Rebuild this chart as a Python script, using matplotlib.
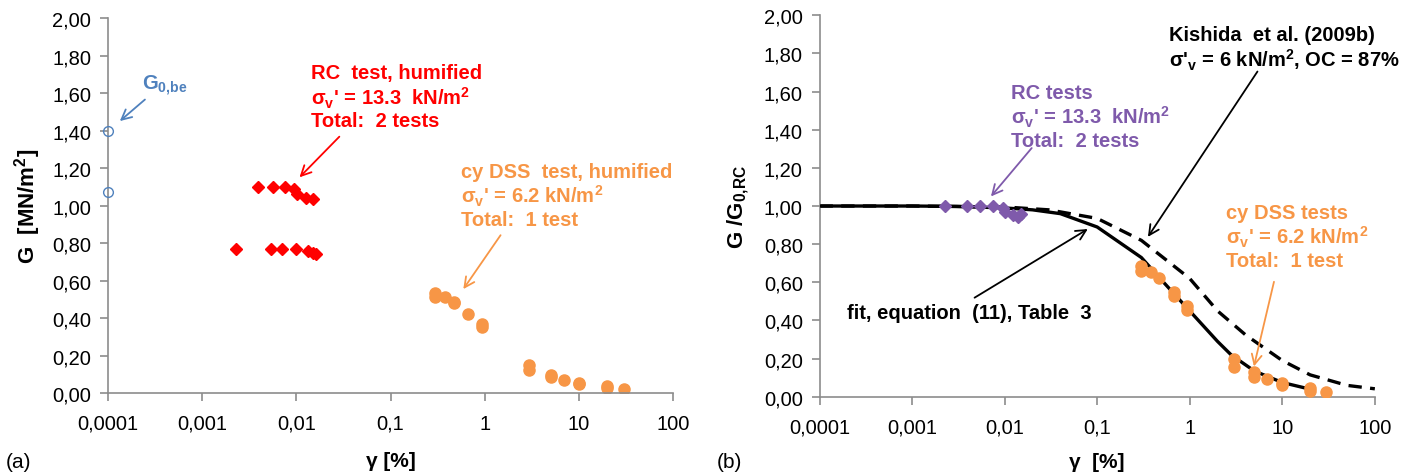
import matplotlib
matplotlib.use("Agg")
import matplotlib.pyplot as plt
from matplotlib.ticker import FixedLocator, NullLocator

plt.rcParams['font.family'] = ['Liberation Sans', 'DejaVu Sans']
plt.rcParams['mathtext.fontset'] = 'custom'
plt.rcParams['mathtext.rm'] = 'Liberation Sans'
plt.rcParams['mathtext.bf'] = 'Liberation Sans:bold'

# ---- data ----
# (a) absolute shear modulus
be_strain = [0.0001, 0.0001]
be_G = [1.40, 1.07]

rc1_strain = [0.0039, 0.00565, 0.0076, 0.0095, 0.0101, 0.0126, 0.0149]
rc1_G = [1.10, 1.10, 1.10, 1.09, 1.06, 1.04, 1.035]
rc2_strain = [0.00227, 0.00535, 0.0071, 0.0098, 0.0133, 0.0152, 0.0162]
rc2_G = [0.77, 0.77, 0.77, 0.77, 0.755, 0.745, 0.742]

dss_strain = [0.3, 0.3, 0.38, 0.47, 0.47, 0.67, 0.94, 0.94, 2.97, 2.97,
              5.0, 5.0, 6.9, 10.0, 10.0, 19.7, 19.7, 29.8]
dss_G = [0.533, 0.51, 0.51, 0.486, 0.481, 0.42, 0.368, 0.35, 0.148, 0.122,
         0.094, 0.085, 0.069, 0.056, 0.047, 0.035, 0.026, 0.021]

# (b) normalised
rcn_strain = [0.00227, 0.0039, 0.0054, 0.0074, 0.0095, 0.0102, 0.0123, 0.0141, 0.0151]
rcn_G = [1.0, 1.0, 1.0, 1.0, 0.99, 0.968, 0.952, 0.945, 0.958]

dssn_strain = [0.3, 0.3, 0.38, 0.47, 0.67, 0.67, 0.94, 0.94, 2.97, 2.97,
               5.0, 5.0, 6.9, 10.0, 10.0, 19.7, 19.7, 29.8]
dssn_G = [0.686, 0.66, 0.655, 0.625, 0.547, 0.53, 0.477, 0.456, 0.197, 0.158,
          0.128, 0.105, 0.093, 0.075, 0.06, 0.045, 0.033, 0.027]

fit_strain = [0.0001, 0.001, 0.003, 0.01, 0.02, 0.04, 0.1, 0.3, 0.5, 1.0, 2.0, 2.8, 5.0, 10.0, 20.0]
fit_G = [1.0, 1.0, 0.998, 0.99, 0.98, 0.96, 0.89, 0.73, 0.61, 0.45, 0.29, 0.22, 0.135, 0.075, 0.04]

kish_strain = [0.0001, 0.001, 0.01, 0.03, 0.1, 0.3, 1.0, 2.0, 4.0, 10.0, 20.0, 50.0, 100.0]
kish_G = [1.0, 1.0, 0.995, 0.98, 0.935, 0.82, 0.62, 0.45, 0.325, 0.19, 0.115, 0.06, 0.042]

xticks = [0.0001, 0.001, 0.01, 0.1, 1, 10, 100]
xticklabels = ["0,0001", "0,001", "0,01", "0,1", "1", "10", "100"]
yticks = [0.0, 0.2, 0.4, 0.6, 0.8, 1.0, 1.2, 1.4, 1.6, 1.8, 2.0]
yticklabels = ["0,00", "0,20", "0,40", "0,60", "0,80", "1,00", "1,20", "1,40", "1,60", "1,80", "2,00"]

RED = "#ff0000"
ORANGE = "#f79646"
BLUE = "#4f81bd"
PURPLE = "#7f5aab"
GRAY = "#8c8c8c"

fig = plt.figure(figsize=(14.13, 4.77), dpi=100)
axa = fig.add_axes([0.0764, 0.174, 0.400, 0.786])
axb = fig.add_axes([0.580, 0.166, 0.393, 0.800])


def style(ax):
    ax.set_xscale("log")
    ax.set_xlim(0.0001, 100)
    ax.set_ylim(0, 2)
    ax.xaxis.set_major_locator(FixedLocator(xticks))
    ax.xaxis.set_minor_locator(NullLocator())
    ax.set_xticklabels(xticklabels)
    ax.set_yticks(yticks)
    ax.set_yticklabels(yticklabels)
    for s in ["top", "right"]:
        ax.spines[s].set_visible(False)
    for s in ["left", "bottom"]:
        ax.spines[s].set_color(GRAY)
        ax.spines[s].set_linewidth(1.2)
    ax.tick_params(axis="both", colors=GRAY, labelcolor="black", labelsize=14.5,
                   length=6, width=1.2, direction="out")
    ax.tick_params(axis="x", pad=9)
    ax.tick_params(axis="y", pad=6)
    ax.patch.set_alpha(0)


style(axa)
style(axb)

# ---- panel (a) ----
axa.plot(be_strain, be_G, "o", ms=7, mfc="none", mec=BLUE, mew=1.0, clip_on=False, zorder=5)
axa.plot(rc1_strain, rc1_G, "D", ms=6.5, color=RED, ls="none")
axa.plot(rc2_strain, rc2_G, "D", ms=6.5, color=RED, ls="none")
axa.plot(dss_strain, dss_G, "o", ms=8, color=ORANGE, ls="none")

axa.set_ylabel("G  [MN/m$^\\mathbf{2}$]", fontsize=16, fontweight="bold", labelpad=7)
axa.set_xlabel("γ [%]", fontsize=15, fontweight="bold", labelpad=13)

axa.text(0.00023, 1.644, "G$_\\mathbf{0{,}be}$", color=BLUE, fontsize=14.5, fontweight="bold",
         ha="left", va="center")
axa.annotate("", xy=(0.000127, 1.441), xytext=(0.00026, 1.575),
             arrowprops=dict(arrowstyle="->", color=BLUE, lw=1.3, mutation_scale=18))

axa.text(0.0144, 1.58, "RC  test, humified\nσ$_\\mathbf{v}$' = 13.3  kN/m$^\\mathbf{2}$\nTotal:  2 tests",
         color=RED, fontsize=14.5, fontweight="bold", ha="left", va="center", linespacing=1.12)
axa.annotate("", xy=(0.0103, 1.14), xytext=(0.030, 1.378),
             arrowprops=dict(arrowstyle="->", color=RED, lw=1.3, mutation_scale=18))

axa.text(0.56, 1.054, "cy DSS  test, humified\nσ$_\\mathbf{v}$' = 6.2 kN/m$^\\mathbf{2}$\nTotal:  1 test",
         color=ORANGE, fontsize=14.5, fontweight="bold", ha="left", va="center", linespacing=1.12)
axa.annotate("", xy=(0.57, 0.542), xytext=(1.53, 0.854),
             arrowprops=dict(arrowstyle="->", color=ORANGE, lw=1.3, mutation_scale=18))

# ---- panel (b) ----
axb.plot(kish_strain, kish_G, color="black", lw=2.4, ls=(0, (4, 2.5)), zorder=2)
axb.plot(fit_strain, fit_G, color="black", lw=2.4, zorder=3)
axb.plot(rcn_strain, rcn_G, "D", ms=6, color=PURPLE, ls="none", zorder=4)
axb.plot(dssn_strain, dssn_G, "o", ms=8, color=ORANGE, ls="none", zorder=4)

axb.set_ylabel("G /G$_\\mathbf{0{,}RC}$", fontsize=16, fontweight="bold", labelpad=9)
axb.set_xlabel("γ  [%]", fontsize=15, fontweight="bold", labelpad=11)

axb.text(0.0117, 1.469, "RC tests\nσ$_\\mathbf{v}$' = 13.3  kN/m$^\\mathbf{2}$\nTotal:  2 tests",
         color=PURPLE, fontsize=14.5, fontweight="bold", ha="left", va="center", linespacing=1.12)
axb.annotate("", xy=(0.0068, 1.039), xytext=(0.0205, 1.315),
             arrowprops=dict(arrowstyle="->", color=PURPLE, lw=1.3, mutation_scale=18))

axb.text(0.59, 1.826, "Kishida  et al. (2009b)\nσ'$_\\mathbf{v}$ = 6 kN/m$^\\mathbf{2}$, OC = 87%",
         color="black", fontsize=14.5, fontweight="bold", ha="left", va="center", linespacing=1.12)
axb.annotate("", xy=(0.34, 0.826), xytext=(5.6, 1.717),
             arrowprops=dict(arrowstyle="->", color="black", lw=1.3, mutation_scale=18))

axb.text(0.000197, 0.442, "fit, equation  (11), Table  3",
         color="black", fontsize=14.5, fontweight="bold", ha="left", va="center")
axb.annotate("", xy=(0.084, 0.887), xytext=(0.00446, 0.512),
             arrowprops=dict(arrowstyle="->", color="black", lw=1.3, mutation_scale=18))

axb.text(2.47, 0.84, "cy DSS tests\nσ$_\\mathbf{v}$' = 6.2 kN/m$^\\mathbf{2}$\nTotal:  1 test",
         color=ORANGE, fontsize=14.5, fontweight="bold", ha="left", va="center", linespacing=1.12)
axb.annotate("", xy=(4.86, 0.145), xytext=(8.26, 0.617),
             arrowprops=dict(arrowstyle="->", color=ORANGE, lw=1.3, mutation_scale=18))

fig.text(0.004, 0.031, "(a)", fontsize=15, ha="left", va="center")
fig.text(0.507, 0.031, "(b)", fontsize=15, ha="left", va="center")

fig.savefig("out.png", dpi=100)
